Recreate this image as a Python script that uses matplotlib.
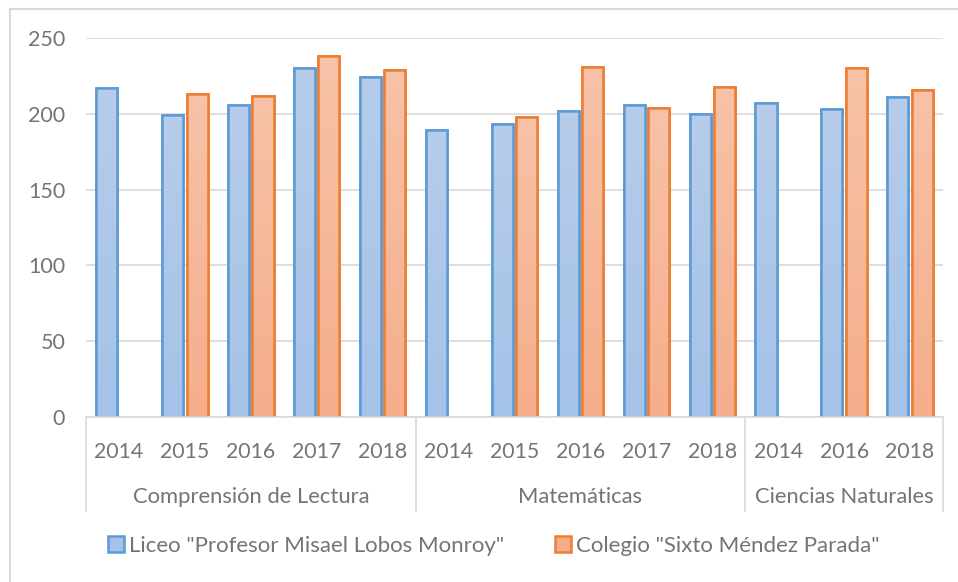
import numpy as np
import matplotlib
matplotlib.use("Agg")
import matplotlib.pyplot as plt
from matplotlib.patches import Rectangle
from matplotlib.colors import LinearSegmentedColormap
import matplotlib.transforms as mtransforms

plt.rcParams["font.family"] = ["Lato", "DejaVu Sans"]

# SIMCE scores by subject and year
groups = ["Comprensión de Lectura", "Matemáticas", "Ciencias Naturales"]
years = [
    ["2014", "2015", "2016", "2017", "2018"],
    ["2014", "2015", "2016", "2017", "2018"],
    ["2014", "2016", "2018"],
]
liceo = [217, 199, 206, 230, 224,
         189, 193, 202, 206, 200,
         207, 203, 211]
colegio = [np.nan, 213, 212, 238, 229,
           np.nan, 198, 231, 204, 218,
           np.nan, 230, 216]
series_names = ['Liceo "Profesor Misael Lobos Monroy"',
                'Colegio "Sixto Méndez Parada"']

text_col = "#747474"
grid_col = "#d9d9d9"
blue_edge, orange_edge = "#5b9bd5", "#ed7d31"
blue_top, blue_bot = "#b6ccea", "#a5c2e8"
orange_top, orange_bot = "#f7c2a7", "#f5ae8c"

W, H = 958, 582
fig = plt.figure(figsize=(W / 100, H / 100), dpi=100)
# chart-area border
fig.patches.append(Rectangle((10 / W, -0.05), 1.0, 1 - 9 / H + 0.05,
                             transform=fig.transFigure, fill=False,
                             edgecolor="#d9d9d9", linewidth=1.5))

ax = fig.add_axes([86 / W, 1 - 417 / H, (943 - 86) / W, (417 - 38) / H])
n = len(liceo)
x = np.arange(n)
bw = 0.32
off = 0.185

ax.set_xlim(-0.5, n - 0.5)
ax.set_ylim(0, 250)
ax.set_yticks(np.arange(0, 251, 50))
ax.yaxis.grid(True, color=grid_col, linewidth=1.2)
ax.set_axisbelow(True)
for s in ["top", "right", "left"]:
    ax.spines[s].set_visible(False)
ax.spines["bottom"].set_color(grid_col)
ax.spines["bottom"].set_linewidth(1.2)
ax.tick_params(axis="y", length=0, pad=15, labelsize=15.5, labelcolor=text_col)
ax.set_xticks([])


def gradient_bars(xs, vals, top, bot, edge, label):
    bars = ax.bar(xs, vals, width=bw, color=bot, edgecolor=edge,
                  linewidth=1.8, label=label, zorder=2)
    cmap = LinearSegmentedColormap.from_list("g", [bot, top])
    grad = np.linspace(0, 1, 64).reshape(-1, 1)
    for b in bars:
        h = b.get_height()
        if not np.isfinite(h):
            continue
        x0 = b.get_x()
        im = ax.imshow(grad, cmap=cmap, aspect="auto", origin="lower",
                       extent=[x0, x0 + bw, 0, h], zorder=2.1)
        im.set_clip_path(b)
        ax.add_patch(Rectangle((x0, 0), bw, h, fill=False, edgecolor=edge,
                               linewidth=1.8, zorder=2.2))
    return bars


gradient_bars(x - off, liceo, blue_top, blue_bot, blue_edge, series_names[0])
gradient_bars(x + off, colegio, orange_top, orange_bot, orange_edge, series_names[1])
ax.set_xlim(-0.5, n - 0.5)
ax.set_ylim(0, 250)

# two-level category axis
px = (417 - 38)
trans = mtransforms.blended_transform_factory(ax.transData, ax.transAxes)
yr_y = -(458 - 417) / px
grp_y = -(503 - 417) / px
sep_y = -(511 - 417) / px
flat_years = [y for g in years for y in g]
for i, yl in enumerate(flat_years):
    ax.text(i, yr_y, yl, transform=trans, ha="center", va="baseline",
            fontsize=15.3, color=text_col)
start = 0
bounds = [-0.5]
for g, ys in zip(groups, years):
    end = start + len(ys)
    ax.text((start + end - 1) / 2, grp_y, g, transform=trans, ha="center",
            va="baseline", fontsize=15.8, color=text_col)
    bounds.append(end - 0.5)
    start = end
for b in bounds:
    ax.plot([b, b], [0, sep_y], transform=trans, color=grid_col,
            linewidth=1.2, clip_on=False)

handles, labels = ax.get_legend_handles_labels()
fig.legend(handles, labels, loc="center", bbox_to_anchor=(494 / W, 1 - 546 / H),
           ncol=2, frameon=False, fontsize=16, labelcolor=text_col,
           handlelength=0.7, handleheight=0.7, handletextpad=0.25,
           columnspacing=2.3)

fig.savefig("out.png", dpi=100)
